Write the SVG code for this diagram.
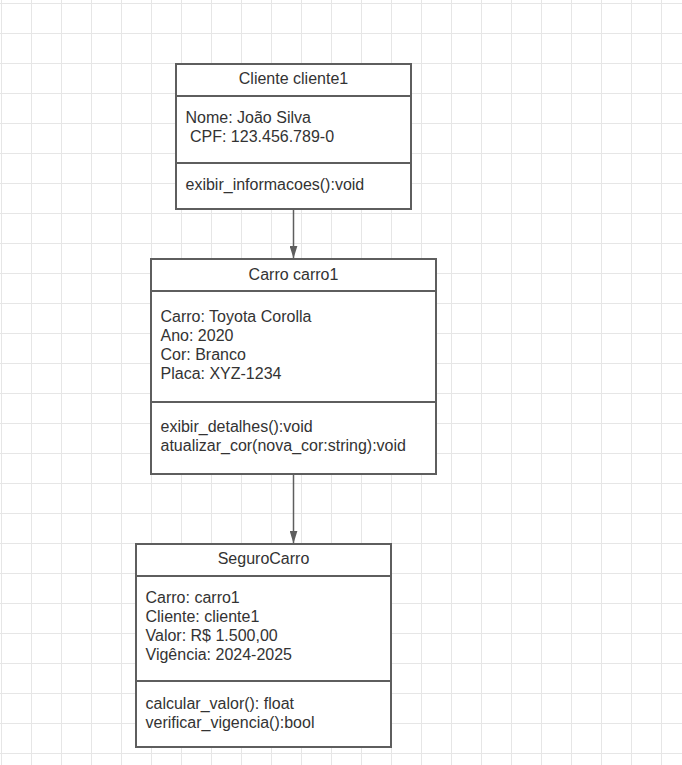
<svg xmlns="http://www.w3.org/2000/svg" width="682" height="765" viewBox="0 0 682 765">
  <defs>
    <pattern id="grid" patternUnits="userSpaceOnUse" x="1" y="3" width="30" height="30">
      <path d="M0,0.5 H30 M0.5,0 V30" fill="none" stroke="#e6e6e6" stroke-width="1"/>
    </pattern>
    <marker id="arrow" viewBox="0 0 13 8" refX="12.5" refY="4" markerWidth="13" markerHeight="8" markerUnits="userSpaceOnUse" orient="auto">
      <path d="M0,0 L13,4 L0,8 z" fill="#5e5e5e"/>
    </marker>
    <style>
      .box { fill: #ffffff; stroke: #5e5e5e; stroke-width: 2; }
      .div { stroke: #5e5e5e; stroke-width: 2; fill: none; }
      .t { font-family: "Liberation Sans", Arial, sans-serif; font-size: 16px; fill: #333333; }
      .h { text-anchor: middle; }
      .conn { stroke: #5e5e5e; stroke-width: 1.5; fill: none; }
    </style>
  </defs>
  <rect x="0" y="0" width="682" height="765" fill="#ffffff"/>
  <rect x="0" y="0" width="682" height="765" fill="url(#grid)"/>

  <g id="connectors">
    <line class="conn" x1="293.5" y1="209" x2="293.5" y2="258" marker-end="url(#arrow)"/>
    <line class="conn" x1="293.5" y1="474" x2="293.5" y2="543" marker-end="url(#arrow)"/>
  </g>

  <g id="cliente1">
    <rect class="box" x="176" y="64" width="235" height="145"/>
    <line class="div" x1="176" y1="96" x2="411" y2="96"/>
    <line class="div" x1="176" y1="163" x2="411" y2="163"/>
    <text class="t h" x="293.5" y="84">Cliente cliente1</text>
    <text class="t" x="185.5" y="122.5">Nome: João Silva</text>
    <text class="t" x="185.5" y="141.5" xml:space="preserve"> CPF: 123.456.789-0</text>
    <text class="t" x="185.5" y="189.5">exibir_informacoes():void</text>
  </g>

  <g id="carro1">
    <rect class="box" x="151" y="259" width="285" height="215"/>
    <line class="div" x1="151" y1="291" x2="436" y2="291"/>
    <line class="div" x1="151" y1="402" x2="436" y2="402"/>
    <text class="t h" x="293.5" y="279.5">Carro carro1</text>
    <text class="t" x="160.5" y="321.5">Carro: Toyota Corolla</text>
    <text class="t" x="160.5" y="340.7">Ano: 2020</text>
    <text class="t" x="160.5" y="359.9">Cor: Branco</text>
    <text class="t" x="160.5" y="379.1">Placa: XYZ-1234</text>
    <text class="t" x="160.5" y="431.7">exibir_detalhes():void</text>
    <text class="t" x="160.5" y="450.9">atualizar_cor(nova_cor:string):void</text>
  </g>

  <g id="segurocarro">
    <rect class="box" x="136" y="544" width="255" height="203"/>
    <line class="div" x1="136" y1="576" x2="391" y2="576"/>
    <line class="div" x1="136" y1="681" x2="391" y2="681"/>
    <text class="t h" x="263.5" y="564">SeguroCarro</text>
    <text class="t" x="145.5" y="602.7">Carro: carro1</text>
    <text class="t" x="145.5" y="621.9">Cliente: cliente1</text>
    <text class="t" x="145.5" y="641.1">Valor: R$ 1.500,00</text>
    <text class="t" x="145.5" y="660.3">Vigência: 2024-2025</text>
    <text class="t" x="145.5" y="708.5">calcular_valor(): float</text>
    <text class="t" x="145.5" y="727.7">verificar_vigencia():bool</text>
  </g>
</svg>
